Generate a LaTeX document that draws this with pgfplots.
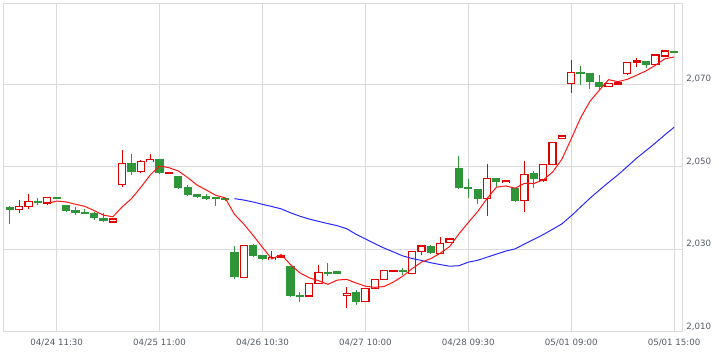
\documentclass[border=0pt]{standalone}
\usepackage{pgfplots}
\pgfplotsset{compat=1.18}
\usepackage{pgfplotstable}
\usepackage{fontspec}
\setmainfont{DejaVu Sans}
\definecolor{cred}{RGB}{226,0,0}
\definecolor{cgreen}{RGB}{46,150,56}
\definecolor{gridc}{RGB}{218,218,218}
\definecolor{txt}{RGB}{85,90,100}
\definecolor{mared}{RGB}{255,20,20}
\definecolor{mablue}{RGB}{40,40,255}

\pgfplotstableread{
i open close high low
1 2039.74 2040.47 2042.00 2038.77
2 2040.47 2041.68 2043.45 2039.74
4 2041.27 2042.65 2042.70 2040.70
11 2036.67 2037.40 2037.45 2036.60
12 2045.80 2050.90 2054.10 2045.20
14 2048.96 2051.29 2051.70 2048.60
15 2051.29 2051.87 2053.15 2051.20
17 2048.40 2048.60 2048.70 2048.30
25 2023.26 2031.00 2031.00 2023.20
28 2027.50 2028.00 2029.60 2027.40
29 2028.20 2028.50 2028.60 2028.10
32 2018.70 2021.80 2021.80 2018.60
33 2021.80 2024.47 2026.20 2021.70
36 2018.90 2019.40 2021.00 2015.70
38 2017.35 2020.60 2020.60 2017.30
39 2020.60 2022.80 2022.80 2020.50
40 2022.80 2024.90 2024.90 2022.70
41 2024.60 2024.90 2025.00 2024.50
43 2024.20 2029.56 2029.60 2024.10
44 2029.47 2030.85 2030.90 2028.67
46 2029.07 2031.50 2032.96 2029.00
47 2031.80 2032.55 2032.60 2031.70
51 2042.30 2047.26 2050.65 2038.20
53 2046.20 2046.60 2046.70 2046.10
55 2041.83 2048.20 2051.45 2039.00
57 2046.85 2050.65 2050.70 2046.40
58 2050.65 2056.00 2056.00 2050.60
59 2056.96 2057.50 2057.50 2056.90
60 2070.30 2072.86 2075.90 2067.90
64 2069.60 2070.30 2070.40 2069.50
65 2070.10 2070.40 2070.50 2070.00
66 2072.70 2075.40 2075.40 2072.20
67 2075.40 2075.70 2076.35 2074.17
69 2074.90 2077.15 2077.20 2074.80
70 2076.90 2078.10 2078.10 2076.80
}\up

\pgfplotstableread{
i open close high low
0 2040.30 2039.65 2040.55 2036.18
3 2041.83 2041.35 2042.41 2040.70
5 2042.65 2042.55 2042.70 2042.50
6 2040.79 2039.40 2040.90 2039.00
7 2039.58 2038.92 2040.23 2038.44
8 2039.16 2038.77 2039.74 2038.70
9 2038.92 2037.56 2039.00 2037.15
10 2037.64 2036.98 2038.77 2036.74
13 2050.90 2048.86 2053.15 2048.06
16 2051.87 2048.46 2051.90 2048.40
18 2047.82 2044.98 2047.90 2044.60
19 2045.15 2043.30 2045.60 2043.05
20 2043.38 2042.80 2043.40 2042.41
21 2042.97 2042.30 2043.40 2042.20
22 2042.48 2042.30 2042.50 2040.55
23 2042.56 2042.00 2042.60 2041.90
24 2029.40 2023.26 2030.90 2022.80
26 2031.00 2028.50 2031.40 2028.40
27 2028.60 2027.80 2028.70 2027.70
30 2026.00 2018.80 2026.10 2018.70
31 2018.97 2018.56 2019.60 2017.20
34 2024.55 2024.13 2026.65 2023.60
35 2024.80 2024.00 2024.80 2024.00
37 2019.77 2017.35 2020.30 2016.55
42 2025.00 2024.55 2025.60 2023.70
45 2030.85 2029.07 2031.10 2029.00
48 2049.85 2044.98 2052.70 2044.60
49 2045.15 2044.60 2047.00 2042.40
50 2044.67 2042.30 2044.70 2041.03
52 2047.40 2046.30 2047.40 2045.20
54 2044.83 2041.83 2044.90 2041.80
56 2048.46 2047.00 2049.10 2044.80
61 2072.86 2072.50 2074.50 2069.88
62 2072.86 2070.70 2072.90 2068.84
63 2070.70 2069.50 2072.30 2068.60
68 2075.70 2074.70 2075.70 2074.07
71 2078.05 2077.70 2078.10 2077.70
}\down

\pgfplotstableread{
i v
4 2041.16
5 2041.74
6 2041.53
7 2040.97
8 2040.46
9 2039.44
10 2038.33
11 2037.93
12 2040.32
13 2042.34
14 2045.09
15 2048.06
16 2050.28
17 2049.82
18 2049.04
19 2047.44
20 2045.63
21 2044.40
22 2043.14
23 2042.54
24 2038.53
25 2036.17
26 2033.41
27 2030.51
28 2027.71
29 2028.76
30 2026.32
31 2024.33
32 2023.13
33 2022.43
34 2021.55
35 2022.59
36 2022.76
37 2021.87
38 2021.10
39 2020.83
40 2021.01
41 2022.11
42 2023.55
43 2025.34
44 2026.95
45 2027.79
46 2029.11
47 2030.71
48 2033.79
49 2036.54
50 2039.19
51 2042.34
52 2045.09
53 2045.41
54 2044.86
55 2046.04
56 2045.99
57 2046.86
58 2048.74
59 2051.87
60 2056.80
61 2061.90
62 2065.91
63 2068.61
64 2071.17
65 2070.68
66 2071.26
67 2072.26
68 2073.30
69 2074.67
70 2076.21
71 2076.67
}\mafive

\pgfplotstableread{
i v
24 2042.33
25 2041.99
26 2041.51
27 2040.95
28 2040.42
29 2039.85
30 2038.90
31 2038.07
32 2037.38
33 2036.81
34 2036.27
35 2035.76
36 2035.04
37 2033.69
38 2032.56
39 2031.42
40 2030.34
41 2029.40
42 2028.44
43 2027.82
44 2027.33
45 2026.78
46 2026.34
47 2025.95
48 2026.07
49 2026.93
50 2027.38
51 2028.13
52 2028.87
53 2029.61
54 2030.15
55 2031.32
56 2032.46
57 2033.61
58 2034.88
59 2036.21
60 2038.16
61 2040.29
62 2042.42
63 2044.38
64 2046.28
65 2048.10
66 2050.12
67 2052.16
68 2053.97
69 2055.82
70 2057.78
71 2059.63
}\matwentyfive

\begin{document}
\begin{tikzpicture}
\path[use as bounding box] (0pt,0pt) rectangle (539.25pt,264.75pt);
\begin{axis}[
  at={(2.625pt,15.75pt)}, anchor=south west,
  x=7.01625pt, y=3.09375pt,
  xmin=-0.684, xmax=71.9, ymin=2010, ymax=2089.7,
  axis line style={gridc, line width=0.75pt},
  xtick={5,16,27,38,49,60,71},
  xticklabels={04/24 11:30,04/25 11:00,04/26 10:30,04/27 10:00,04/28 09:30,05/01 09:00,05/01 15:00},
  ytick={2010,2030,2050,2070},
  yticklabels={{2,010},{2,030},{2,050},{2,070}},
  yticklabel pos=right,
  major tick length=0pt,
  tick label style={font=\fontsize{6.5}{7}\selectfont, text=txt},
  xticklabel style={yshift=-2pt},
  yticklabel style={anchor=base west, inner sep=0pt, xshift=2.6pt, yshift=2pt},
  grid=major,
  major grid style={gridc, line width=0.75pt},
  every error bar/.style={},
]
% wicks
\addplot[draw=none, mark=none, forget plot,
  error bars/.cd, y dir=both, y explicit, error mark=none,
  error bar style={draw=cgreen, line width=0.75pt}]
  table[x=i, y=close, y error plus expr=\thisrow{high}-\thisrow{close},
        y error minus expr=\thisrow{close}-\thisrow{low}] {\down};
\addplot[draw=none, mark=none, forget plot,
  error bars/.cd, y dir=both, y explicit, error mark=none,
  error bar style={draw=cred, line width=0.75pt}]
  table[x=i, y=close, y error plus expr=\thisrow{high}-\thisrow{close},
        y error minus expr=\thisrow{close}-\thisrow{low}] {\up};
% green bodies
\addplot[draw=none, mark=none, forget plot,
  error bars/.cd, y dir=both, y explicit, error mark=none,
  error bar style={draw=cgreen, line width=6.2pt}]
  table[x=i, y expr=(\thisrow{open}+\thisrow{close})/2,
        y error expr={max(abs(\thisrow{open}-\thisrow{close})/2,0.25)}] {\down};
% red bodies: red outline, white inside
\addplot[draw=none, mark=none, forget plot,
  error bars/.cd, y dir=both, y explicit, error mark=none,
  error bar style={draw=cred, line width=6.2pt}]
  table[x=i, y expr=(\thisrow{open}+\thisrow{close})/2,
        y error expr={abs(\thisrow{open}-\thisrow{close})/2+0.15}] {\up};
\addplot[draw=none, mark=none, forget plot,
  error bars/.cd, y dir=both, y explicit, error mark=none,
  error bar style={draw=white, line width=4.4pt}]
  table[x=i, y expr=(\thisrow{open}+\thisrow{close})/2,
        y error expr={max(abs(\thisrow{open}-\thisrow{close})/2-0.15,0)}] {\up};
% moving averages
\addplot[mablue, line width=0.75pt, mark=none] table[x=i, y=v] {\matwentyfive};
\addplot[mared, line width=0.75pt, mark=none] table[x=i, y=v] {\mafive};
\end{axis}
\end{tikzpicture}
\end{document}
